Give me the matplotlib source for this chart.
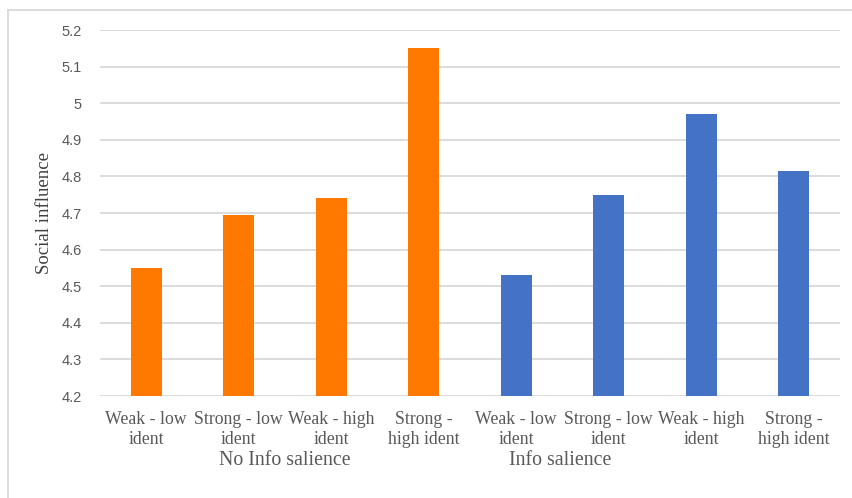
import matplotlib
matplotlib.use('Agg')
import matplotlib.pyplot as plt
from matplotlib.lines import Line2D

# Dados do gráfico
categories = ['Weak - low\nident', 'Strong - low\nident', 'Weak - high\nident', 'Strong -\nhigh ident',
              'Weak - low\nident', 'Strong - low\nident', 'Weak - high\nident', 'Strong -\nhigh ident']
groups = ['No Info salience', 'Info salience']
no_info_values = [4.55, 4.695, 4.74, 5.15]
info_values = [4.53, 4.75, 4.97, 4.815]

orange = '#FF7800'
blue = '#4472C4'
grey_text = '#595959'

fig = plt.figure(figsize=(8.53, 4.98), dpi=100)
W, H = 853, 498
ax = fig.add_axes([100 / W, (H - 396) / H, 740 / W, 366 / H])

values = no_info_values + info_values
colors = [orange] * len(no_info_values) + [blue] * len(info_values)
x = list(range(len(values)))
ax.bar(x, values, width=0.33, color=colors, bottom=0, zorder=3)

ax.set_ylim(4.2, 5.2)
ax.set_xlim(-0.5, len(values) - 0.5)
ticks = [round(4.2 + 0.1 * i, 1) for i in range(11)]
ax.set_yticks(ticks)
ax.set_yticklabels([f'{t:g}' for t in ticks], fontsize=10.5, color=grey_text, family='Liberation Sans')
ax.yaxis.grid(True, color='#D9D9D9', linewidth=1.3, zorder=0)
ax.tick_params(axis='y', length=0, pad=13)
ax.tick_params(axis='x', length=0, pad=11)
ax.set_xticks(x)
ax.set_xticklabels(categories, fontsize=12.8, color=grey_text, family='Liberation Serif', linespacing=1.2)
for s in ax.spines.values():
    s.set_visible(False)

ax.set_ylabel('Social influence', fontsize=13.5, color='#404040', family='Liberation Serif', labelpad=6)

# Rótulos de grupo
group_x = [1.5, 4.47]
for gx, g in zip(group_x, groups):
    ax.text(gx, -0.175, g, transform=ax.get_xaxis_transform(), ha='center', va='center',
            fontsize=14.3, color=grey_text, family='Liberation Serif')

# Moldura do gráfico
fig.add_artist(Line2D([8 / W, 8 / W], [0, 1 - 10 / H], color='#D9D9D9', linewidth=1.3))
fig.add_artist(Line2D([8 / W, 1], [1 - 10 / H, 1 - 10 / H], color='#D9D9D9', linewidth=1.3))

fig.savefig('out.png', dpi=100)
